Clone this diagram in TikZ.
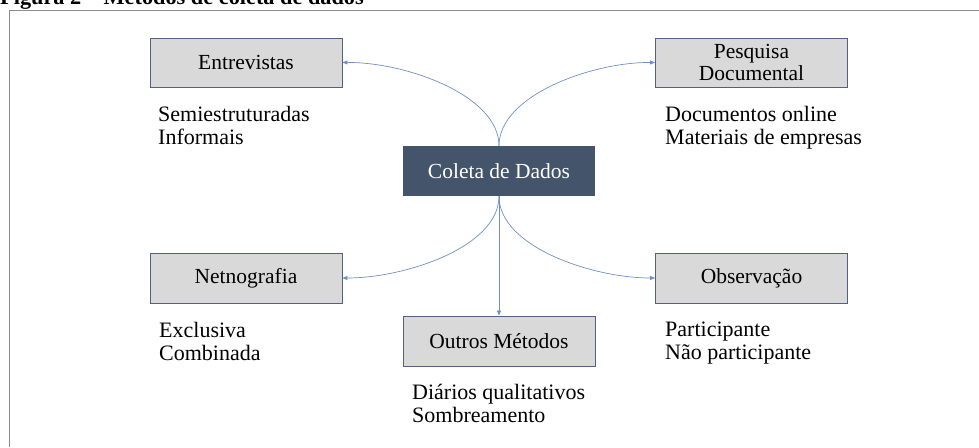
\documentclass[tikz,border=0pt]{standalone}
\usepackage{fontspec}
\setmainfont{Liberation Serif}
\usetikzlibrary{arrows.meta}
\definecolor{boxfill}{HTML}{D9D9D9}
\definecolor{boxline}{HTML}{4F6282}
\definecolor{darkfill}{HTML}{44546A}
\definecolor{arrowc}{HTML}{6F8FC8}
\definecolor{framec}{HTML}{8C8C8C}
\begin{document}
\begin{tikzpicture}[x=1pt,y=-1pt,
  graybox/.style={draw=boxline,line width=0.9pt,fill=boxfill,minimum width=192pt,minimum height=49pt,inner sep=0pt,align=center,font=\fontsize{21.5}{23.5}\selectfont},
  mainbox/.style={draw=none,fill=darkfill,text=white,minimum width=192pt,minimum height=50pt,inner sep=0pt,font=\fontsize{21.5}{23.5}\selectfont},
  sublabel/.style={anchor=base west,inner sep=0pt,align=left,font=\fontsize{22}{22.5}\selectfont},
  conn/.style={draw=arrowc,line width=0.7pt,-{Triangle[length=5pt,width=4pt]}}]
\useasboundingbox (0,0) rectangle (979,447);
\clip (0,0) rectangle (979,447);
% title
\node[anchor=base west,inner sep=0pt,font=\fontsize{22.3}{24}\selectfont\bfseries] (title) at (0,5) {Figura 2 – Métodos de coleta de dados};
% frame
\draw[framec,line width=1pt] (9.5,447) -- (9.5,10.5) -- (979,10.5);
% boxes
\node[graybox] (ent) at (246,62.5) {Entrevistas};
\node[graybox] (pes) at (751.5,62.5) {Pesquisa\\[-1pt]Documental};
\node[mainbox] (col) at (499,171) {Coleta de Dados};
\node[graybox,minimum height=50pt] (net) at (246,278) {Netnografia};
\node[graybox,minimum height=50pt] (out) at (499,341) {Outros Métodos};
\node[graybox,minimum height=50pt] (obs) at (751.5,278) {Observação};
% sub labels (anchor = baseline of the last line)
\node[sublabel] (entsub) at (158,144) {Semiestruturadas\\Informais};
\node[sublabel] (pessub) at (665,144) {Documentos online\\Materiais de empresas};
\node[sublabel] (netsub) at (159,360) {Exclusiva\\Combinada};
\node[sublabel] (obssub) at (665,359) {Participante\\Não participante};
\node[sublabel] (outsub) at (412,422) {Diários qualitativos\\Sombreamento};
% connectors
\draw[conn] (col.north) .. controls (499,95) and (405,62) .. (ent.east);
\draw[conn] (col.north) .. controls (499,95) and (593,62) .. (pes.west);
\draw[conn] (col.south) .. controls (499,247) and (405,278) .. (net.east);
\draw[conn] (col.south) .. controls (499,247) and (593,278) .. (obs.west);
\draw[conn] (col.south) -- (out.north);
\end{tikzpicture}
\end{document}
